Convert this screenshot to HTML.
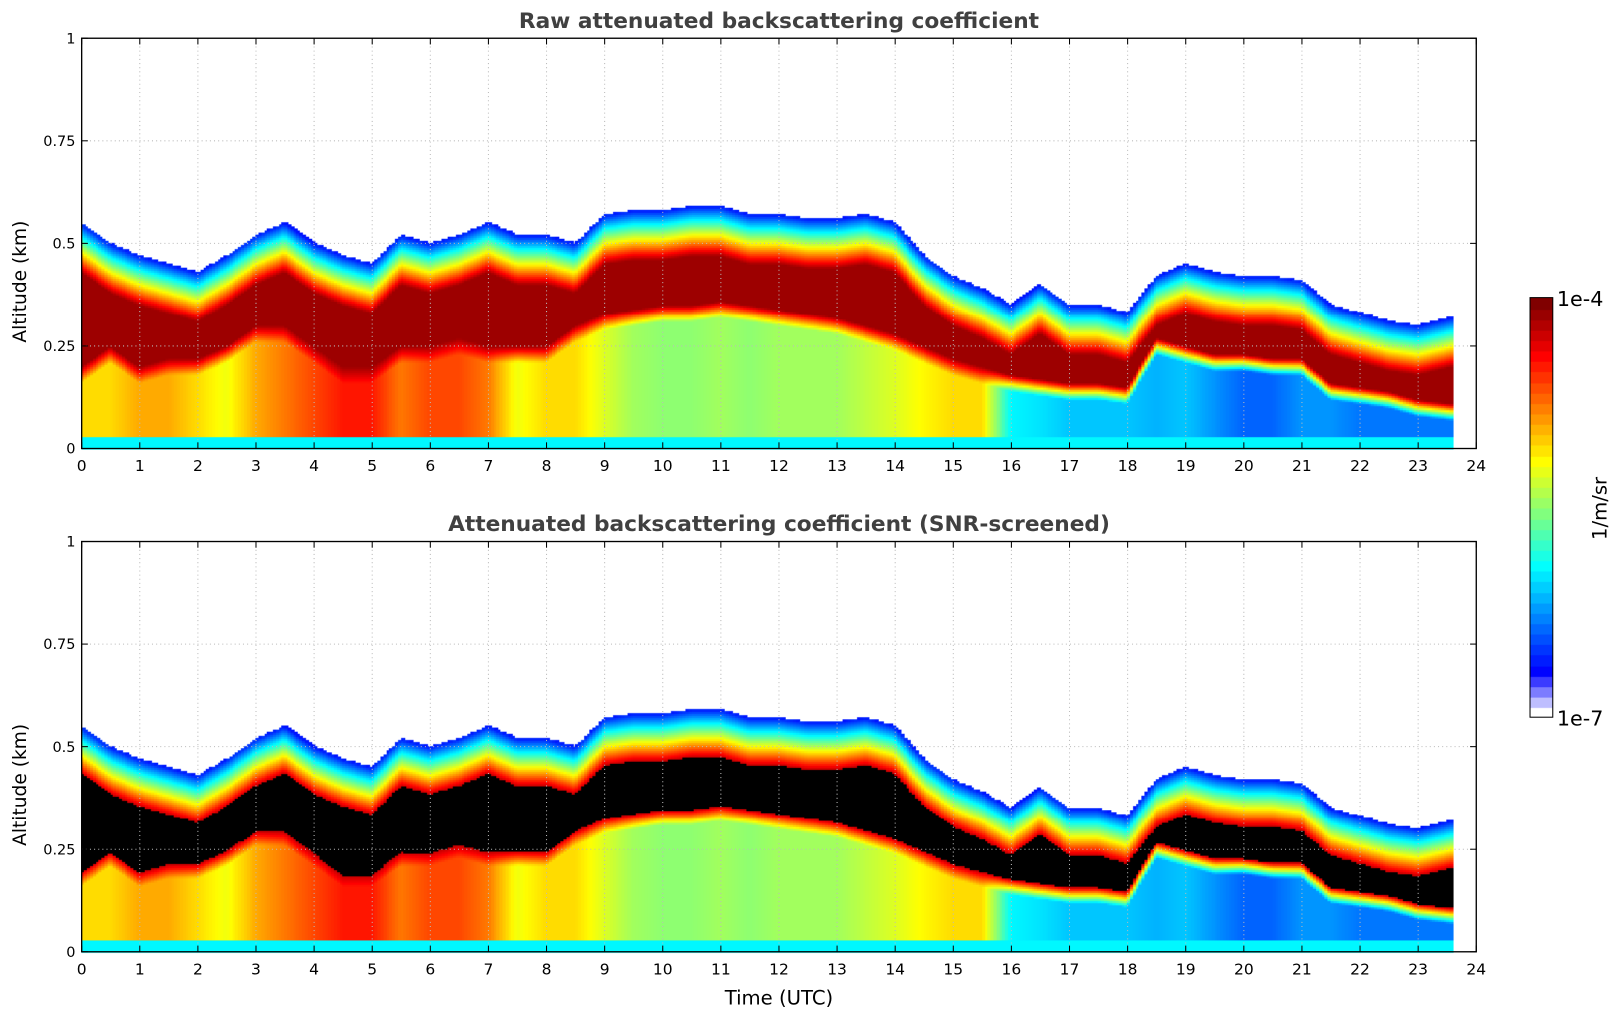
<!DOCTYPE html>
<html><head><meta charset="utf-8"><style>
body{margin:0;background:#fff;width:1621px;height:1020px;overflow:hidden;font-family:"DejaVu Sans","Liberation Sans",sans-serif}
#wrap{position:relative;width:1568px;height:987px;transform:scale(1.03380,1.03343);transform-origin:0 0}
canvas{position:absolute;left:0;top:0}
svg{position:absolute;left:0;top:0}
</style></head><body>
<div id="wrap">
<canvas id="cv" width="1568" height="987"></canvas>
<svg id="sv" width="1568" height="987" font-family="DejaVu Sans, Liberation Sans, sans-serif"></svg>
</div>
<script>
// Data (half-hour samples)
const times = [0,0.5,1,1.5,2,2.5,3,3.5,4,4.5,5,5.5,6,6.5,7,7.5,8,8.5,9,9.5,10,10.5,11,11.5,12,12.5,13,13.5,14,14.5,15,15.5,16,16.5,17,17.5,18,18.5,19,19.5,20,20.5,21,21.5,22,22.5,23,23.6];
const layerTop = [0.55,0.5,0.47,0.45,0.43,0.47,0.52,0.55,0.5,0.47,0.45,0.52,0.5,0.52,0.55,0.52,0.52,0.5,0.57,0.58,0.58,0.59,0.59,0.57,0.57,0.56,0.56,0.57,0.55,0.47,0.42,0.39,0.35,0.4,0.35,0.35,0.33,0.42,0.45,0.43,0.42,0.42,0.41,0.35,0.33,0.31,0.3,0.32];
const coreBottom = [0.2,0.25,0.2,0.22,0.22,0.25,0.3,0.3,0.25,0.2,0.2,0.25,0.25,0.27,0.25,0.25,0.25,0.3,0.33,0.34,0.35,0.35,0.36,0.35,0.34,0.33,0.32,0.3,0.28,0.25,0.22,0.2,0.18,0.17,0.16,0.16,0.15,0.27,0.25,0.23,0.23,0.22,0.22,0.16,0.15,0.14,0.12,0.11];
const lowValue = [0.65,0.65,0.7,0.7,0.65,0.6,0.7,0.75,0.8,0.85,0.85,0.75,0.8,0.8,0.75,0.6,0.65,0.65,0.58,0.52,0.5,0.5,0.52,0.5,0.52,0.52,0.52,0.55,0.58,0.62,0.65,0.65,0.35,0.33,0.3,0.3,0.3,0.28,0.3,0.25,0.2,0.2,0.25,0.25,0.22,0.22,0.22,0.22];
const xTicks = [0,1,2,3,4,5,6,7,8,9,10,11,12,13,14,15,16,17,18,19,20,21,22,23,24];
const yTicks = [0,0.25,0.5,0.75,1];
const yTickLabels = ["0","0.25","0.5","0.75","1"];

const X0=79,X1=1428,H=397;
const panels=[{bottom:434,title:"Raw attenuated backscattering coefficient",screen:false,name:"raw"},
              {bottom:921,title:"Attenuated backscattering coefficient (SNR-screened)",screen:true,name:"screened"}];
function xs(t){return X0+t/24*(X1-X0);}
function ys(p,z){return p.bottom-z*H;}
function interp(arr,t){
  if(t<=times[0])return arr[0];
  for(let i=1;i<times.length;i++){if(t<=times[i]){const f=(t-times[i-1])/(times[i]-times[i-1]);return arr[i-1]+f*(arr[i]-arr[i-1]);}}
  return arr[arr.length-1];
}
function cl(a){return Math.max(0,Math.min(1,a));}
function cmap(v){
  if(v<0.1){const f=v/0.1;return [Math.round(255*(1-f)),Math.round(255*(1-f)),255];}
  const s=0.125+(v-0.1)/0.9*0.875;
  return [cl(1.5-Math.abs(4*s-3)),cl(1.5-Math.abs(4*s-2)),cl(1.5-Math.abs(4*s-1))].map(c=>Math.round(c*255));
}
function value(t,z){
  const top=interp(layerTop,t),cb=interp(coreBottom,t),lv=interp(lowValue,t);
  if(z>top)return -1;
  if(z>top-0.12){const f=(top-z)/0.12;return 0.12+0.85*f;}
  if(z>cb)return 0.97;
  if(z<0.03)return 0.35;
  if(z>cb-0.04){const f=(cb-z)/0.04;return 0.97*(1-f)+lv*f;}
  return lv;
}
const ctx=document.getElementById('cv').getContext('2d');
const dt=0.05,dz=0.005;
panels.forEach(p=>{
  for(let t=0;t<23.6;t+=dt){
    for(let z=0;z<0.62;z+=dz){
      const v=value(t+dt/2,z+dz/2);
      if(v<0)continue;
      let c=cmap(v);
      if(p.screen&&v>=0.93)c=[0,0,0];
      ctx.fillStyle=`rgb(${c[0]},${c[1]},${c[2]})`;
      const x=xs(t),y=ys(p,z+dz);
      ctx.fillRect(Math.floor(x),Math.floor(y),Math.ceil(xs(t+dt)-x)+1,Math.ceil(ys(p,z)-y)+1);
    }
  }
});
// colorbar
for(let i=0;i<40;i++){
  const v=i/39;const c=cmap(v);
  ctx.fillStyle=`rgb(${c[0]},${c[1]},${c[2]})`;
  const y0=694-(i+1)*406/40;
  ctx.fillRect(1480,Math.floor(y0),22,Math.ceil(406/40)+1);
}

const NS='http://www.w3.org/2000/svg';
const sv=document.getElementById('sv');
function el(tag,attrs,parent){const e=document.createElementNS(NS,tag);for(const k in attrs)e.setAttribute(k,attrs[k]);(parent||sv).appendChild(e);return e;}
panels.forEach(p=>{
  const g=el('g',{});
  
  
  xTicks.forEach(t=>{
    const x=xs(t);
    if(t>0&&t<24){const gl=el('line',{x1:x,x2:x,y1:p.bottom-H,y2:p.bottom,stroke:'#bbb','stroke-width':1,'stroke-dasharray':'1,3'},g);
      }
    el('line',{x1:x,x2:x,y1:p.bottom,y2:p.bottom-6,stroke:'#000'},g);
    el('line',{x1:x,x2:x,y1:p.bottom-H,y2:p.bottom-H+6,stroke:'#000'},g);
    const tx=el('text',{x:x,y:p.bottom+22,'font-size':15,'text-anchor':'middle',fill:'#000'},g);
    tx.textContent=t;
    
  });
  yTicks.forEach((z,i)=>{
    const y=ys(p,z);
    if(z>0&&z<1){const gl=el('line',{x1:X0,x2:X1,y1:y,y2:y,stroke:'#bbb','stroke-width':1,'stroke-dasharray':'1,3'},g);
      }
    el('line',{x1:X0,x2:X0+6,y1:y,y2:y,stroke:'#000'},g);
    el('line',{x1:X1,x2:X1-6,y1:y,y2:y,stroke:'#000'},g);
    const tx=el('text',{x:X0-6,y:y+5,'font-size':14,'text-anchor':'end',fill:'#000'},g);
    tx.textContent=yTickLabels[i];
    
  });
  const fr=el('rect',{x:X0,y:p.bottom-H,width:X1-X0,height:H,fill:'none',stroke:'#000','stroke-width':1.3},g);
  
  const ti=el('text',{x:(X0+X1)/2,y:p.bottom-H-10,'font-size':21,'font-weight':'bold','text-anchor':'middle',fill:'#404040'},g);
  ti.textContent=p.title;
  
  const yl=el('text',{x:0,y:0,'font-size':18,'text-anchor':'middle',fill:'#000',transform:`translate(25,${p.bottom-H/2+37}) rotate(-90)`},g);
  yl.textContent='Altitude (km)';
  
});
const xl=el('text',{x:(X0+X1)/2,y:972,'font-size':19,'text-anchor':'middle',fill:'#000'});
xl.textContent='Time (UTC)';

const cb=el('rect',{x:1480,y:288,width:22,height:406,fill:'none',stroke:'#000','stroke-width':1});

const c1=el('text',{x:1506,y:296,'font-size':20,fill:'#000'});c1.textContent='1e-4';

const c2=el('text',{x:1506,y:702,'font-size':20,fill:'#000'});c2.textContent='1e-7';

const cu=el('text',{x:0,y:0,'font-size':19,'text-anchor':'middle',fill:'#000',transform:'translate(1554,492) rotate(-90)'});cu.textContent='1/m/sr';

</script>
</body></html>
